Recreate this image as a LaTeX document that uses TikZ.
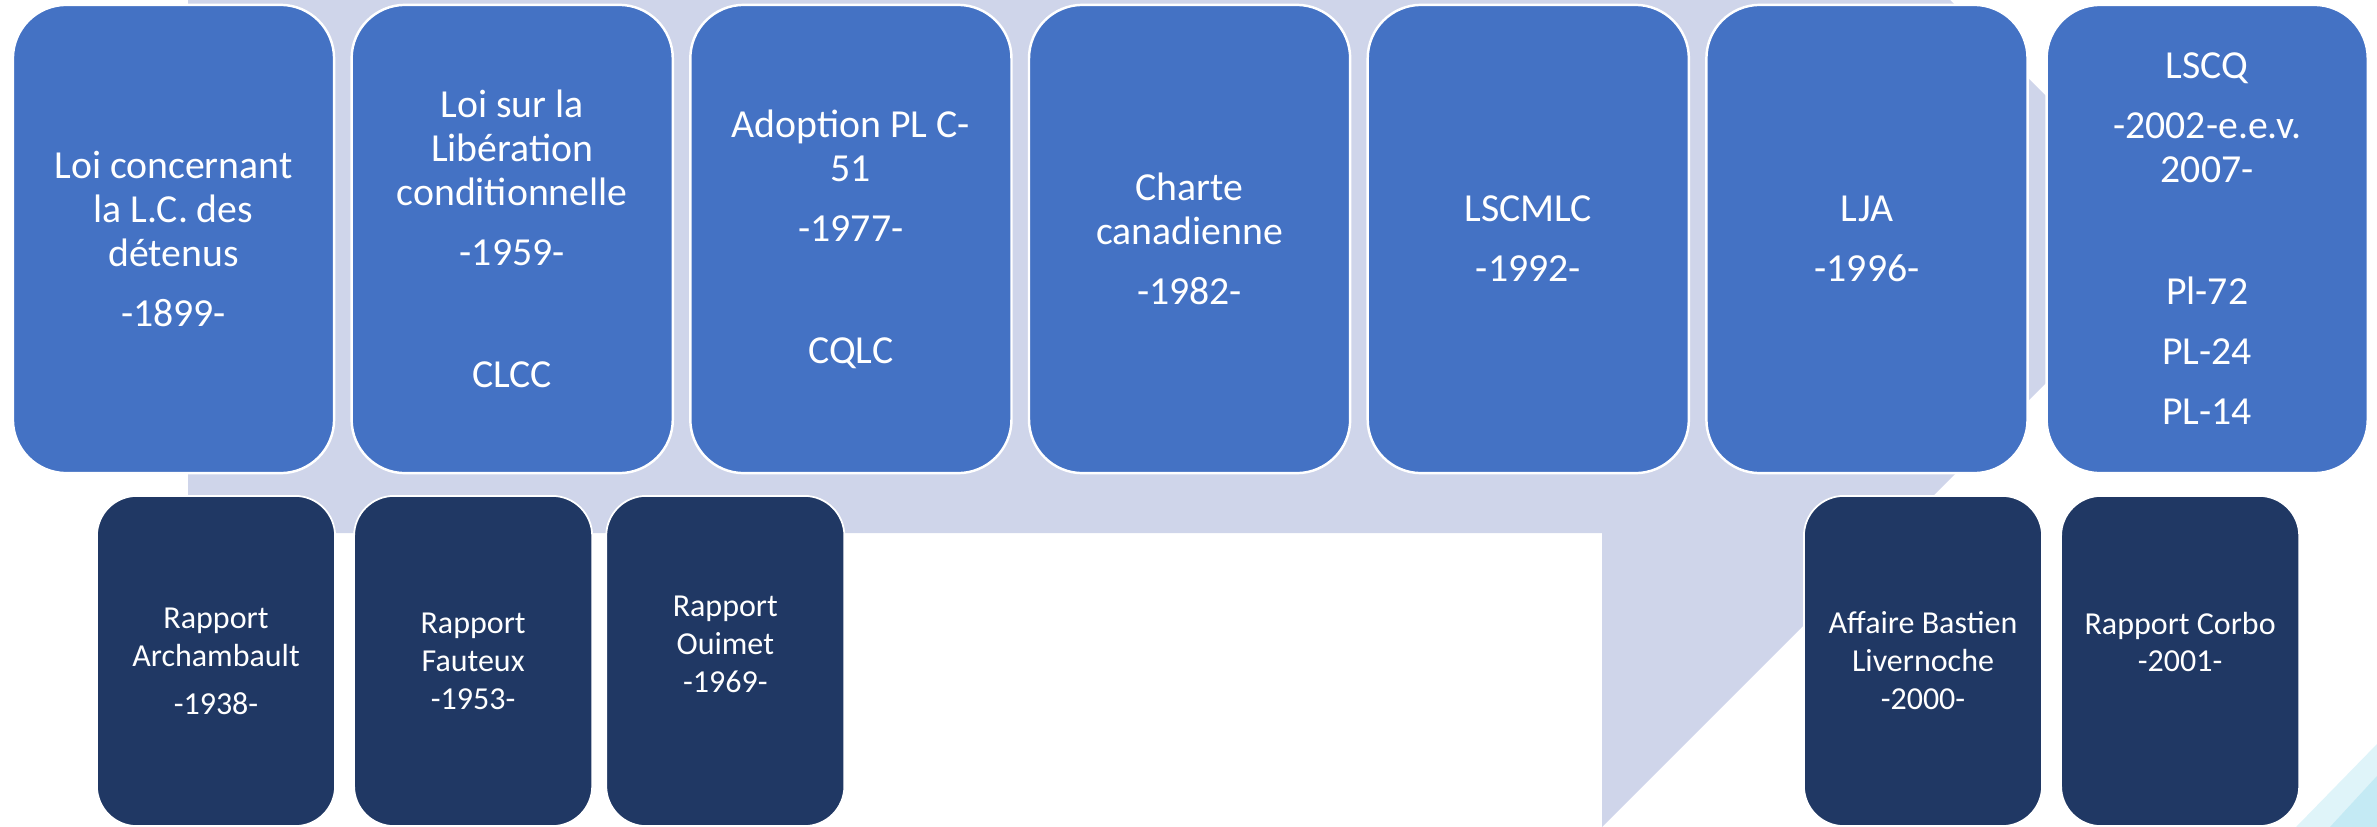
\documentclass[tikz,border=0pt]{standalone}
\usepackage{fontspec}
\setmainfont{Carlito}
\usetikzlibrary{positioning}
\definecolor{loiblue}{RGB}{68,114,196}
\definecolor{rapnavy}{RGB}{32,56,100}
\definecolor{arrowbg}{RGB}{207,213,234}
\definecolor{swoosh}{RGB}{196,234,244}

\begin{document}
\begin{tikzpicture}[x=0.01cm,y=-0.01cm,
  loibox/.style={rectangle,rounded corners=0.535cm,fill=loiblue,draw=white,line width=0.7pt,
    outer sep=0pt,minimum width=3.21cm,minimum height=4.68cm,inner sep=0pt,text=white,
    align=center,font=\fontsize{11.3}{12.5}\selectfont},
  rapbox/.style={rectangle,rounded corners=0.4cm,fill=rapnavy,draw=white,line width=0.5pt,
    outer sep=0pt,minimum width=2.38cm,minimum height=3.3cm,inner sep=0pt},
  raptext/.style={text=white,align=center,font=\fontsize{9.1}{10.8}\selectfont}]
  \clip (0,0) rectangle (2377,827);
  % corner decoration
  \fill[swoosh!55] (2296,827) -- (2377,744) -- (2377,827) -- cycle;
  \fill[swoosh] (2330,827) -- (2377,776) -- (2377,827) -- cycle;
  % arrow behind the boxes
  \fill[arrowbg] (188,-20) -- (1930,-20) -- (2189.5,239.5) -- (1602,827) -- (1602,533) -- (188,533) -- cycle;

  % laws
  \node[loibox] (l1) at (173.5,239) {Loi concernant\\la L.C. des\\détenus\\[0.16cm]-1899-};
  \node[loibox,right=0.175cm of l1] (l2) {Loi sur la\\Libération\\conditionnelle\\[0.16cm]-1959-\\[0.78cm]CLCC};
  \node[loibox,right=0.175cm of l2] (l3) {Adoption PL C-\\51\\[0.16cm]-1977-\\[0.78cm]CQLC};
  \node[loibox,right=0.175cm of l3] (l4) {Charte\\canadienne\\[0.16cm]-1982-};
  \node[loibox,right=0.175cm of l4] (l5) {LSCMLC\\[0.16cm]-1992-};
  \node[loibox,right=0.175cm of l5] (l6) {LJA\\[0.16cm]-1996-};
  \node[loibox,right=0.19cm of l6] (l7) {LSCQ\\[0.16cm]-2002-e.e.v.\\2007-\\[0.78cm]Pl-72\\[0.16cm]PL-24\\[0.16cm]PL-14};

  % reports
  \node[rapbox] (r1) at (216,661) {};
  \node[rapbox,right=0.19cm of r1] (r2) {};
  \node[rapbox,right=0.14cm of r2] (r3) {};
  \node[rapbox] (r4) at (1923,661) {};
  \node[rapbox,right=0.19cm of r4] (r5) {};
  \node[raptext] (t1) at (r1) {Rapport\\Archambault\\[0.1cm]-1938-};
  \node[raptext] (t2) at (r2) {Rapport\\Fauteux\\-1953-};
  \node[raptext] (t3) at ([yshift=0.17cm]r3.center) {Rapport\\Ouimet\\-1969-};
  \node[raptext] (t4) at (r4) {Affaire Bastien\\Livernoche\\-2000-};
  \node[raptext] (t5) at ([yshift=0.19cm]r5.center) {Rapport Corbo\\-2001-};
\end{tikzpicture}
\end{document}
